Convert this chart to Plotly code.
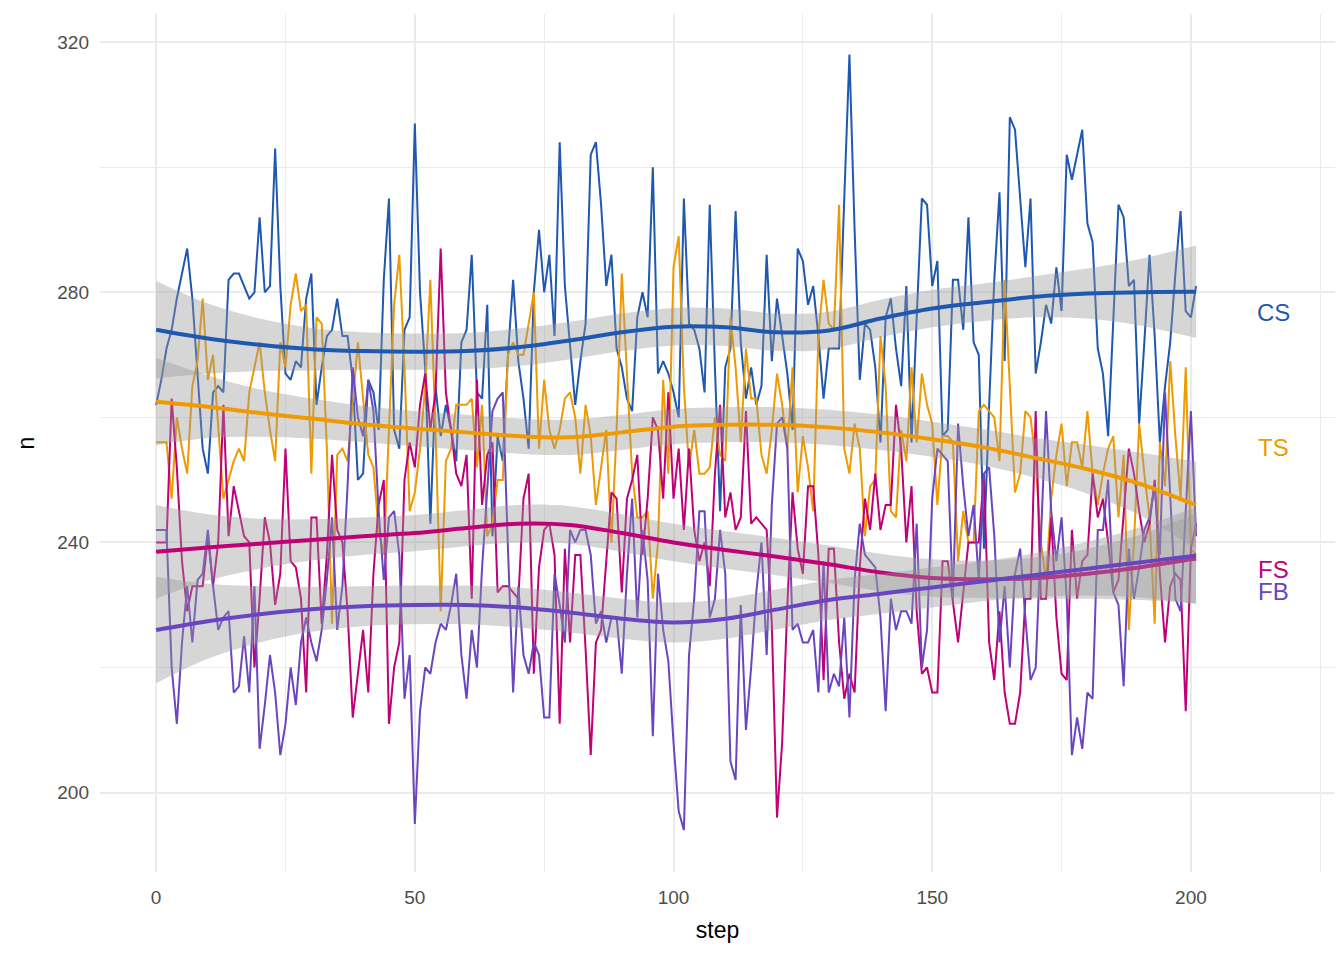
# plot.py
#
# Four noisy count series (CS, TS, FS, FB) over ~200 steps, each with a
# loess-style smooth and grey confidence band, labelled at the right edge.
#
# Output: out.html

import plotly.graph_objects as go

# ── Data ──────────────────────────────────────────────────────────────────
steps = list(range(202))

cs_values = [
    262, 266, 271, 274, 279, 283, 287, 279, 267, 255,
    251, 264, 265, 264, 282, 283, 283, 281, 279, 280,
    292, 280, 281, 303, 281, 267, 266, 269, 268, 279,
    283, 262, 268, 273, 274, 279, 273, 273, 266, 250,
    251, 266, 264, 258, 282, 295, 258, 255, 274, 276,
    307, 280, 268, 243, 265, 257, 262, 258, 253, 272,
    274, 286, 264, 263, 278, 241, 257, 253, 270, 282,
    269, 263, 255, 280, 290, 280, 286, 273, 304, 281,
    272, 262, 269, 275, 302, 304, 294, 281, 286, 271,
    268, 263, 261, 276, 280, 276, 300, 267, 269, 267,
    264, 260, 295, 275, 274, 271, 264, 294, 268, 245,
    268, 271, 293, 272, 263, 268, 262, 265, 286, 269,
    279, 273, 267, 258, 287, 285, 278, 281, 273, 263,
    271, 271, 271, 295, 318, 290, 266, 275, 274, 268,
    256, 276, 279, 271, 265, 281, 256, 276, 295, 294,
    281, 285, 257, 258, 282, 282, 274, 292, 272, 270,
    239, 262, 282, 296, 269, 308, 306, 295, 284, 295,
    267, 272, 278, 275, 284, 277, 302, 298, 302, 306,
    291, 288, 271, 267, 257, 275, 294, 292, 281, 282,
    259, 272, 286, 273, 256, 265, 272, 283, 293, 277,
    276, 281,
]

ts_values = [
    256, 256, 256, 247, 260, 255, 251, 265, 269, 279,
    266, 270, 258, 247, 250, 253, 255, 253, 264, 268,
    272, 264, 258, 253, 272, 268, 278, 283, 277, 278,
    251, 276, 275, 255, 227, 254, 255, 253, 262, 272,
    263, 254, 252, 242, 238, 258, 278, 286, 268, 245,
    248, 255, 265, 282, 258, 229, 253, 255, 262, 262,
    262, 263, 252, 262, 241, 243, 250, 250, 270, 272,
    270, 270, 275, 280, 255, 266, 258, 255, 258, 263,
    264, 260, 251, 262, 257, 246, 252, 258, 240, 258,
    283, 267, 251, 244, 244, 245, 231, 240, 266, 251,
    284, 289, 265, 252, 258, 251, 251, 252, 260, 254,
    253, 276, 268, 256, 271, 263, 263, 254, 251, 258,
    267, 262, 255, 268, 248, 257, 252, 245, 273, 282,
    275, 274, 294, 255, 251, 259, 255, 241, 249, 250,
    273, 265, 245, 244, 258, 253, 268, 256, 267, 262,
    259, 246, 257, 257, 256, 237, 245, 240, 240, 261,
    262, 261, 260, 253, 282, 265, 248, 251, 261, 260,
    253, 240, 234, 247, 254, 259, 249, 256, 256, 252,
    261, 251, 246, 251, 255, 257, 244, 254, 226, 240,
    259, 251, 244, 227, 256, 249, 269, 257, 247, 268,
    239, 238,
]

fs_values = [
    240, 240, 240, 263, 252, 237, 229, 233, 233, 233,
    241, 233, 240, 262, 241, 249, 245, 241, 240, 220,
    231, 244, 240, 230, 235, 255, 237, 236, 231, 216,
    244, 244, 227, 238, 254, 242, 240, 229, 212, 219,
    226, 216, 235, 246, 250, 211, 220, 224, 250, 256,
    252, 262, 267, 258, 264, 287, 264, 258, 251, 249,
    254, 231, 266, 246, 254, 256, 232, 233, 233, 232,
    231, 247, 251, 219, 236, 242, 243, 238, 211, 239,
    224, 238, 238, 223, 206, 224, 226, 237, 248, 247,
    232, 247, 250, 254, 238, 247, 260, 258, 247, 264,
    247, 255, 242, 255, 242, 237, 240, 233, 251, 262,
    244, 248, 242, 244, 261, 243, 244, 243, 242, 227,
    196, 208, 230, 248, 239, 235, 249, 249, 238, 218,
    239, 239, 224, 215, 219, 216, 236, 247, 242, 251,
    242, 246, 246, 262, 255, 240, 249, 229, 219, 220,
    216, 216, 237, 237, 230, 224, 232, 240, 240, 240,
    251, 224, 218, 229, 216, 211, 211, 216, 231, 231,
    261, 231, 231, 244, 228, 219, 218, 242, 231, 237,
    238, 251, 244, 247, 240, 232, 234, 244, 255, 251,
    245, 240, 243, 250, 235, 224, 233, 235, 234, 213,
    239, 243,
]

fb_values = [
    242, 242, 242, 220, 211, 224, 233, 224, 234, 235,
    242, 233, 226, 228, 229, 216, 217, 225, 216, 233,
    207, 214, 222, 216, 206, 211, 220, 214, 224, 228,
    224, 221, 226, 234, 244, 226, 233, 249, 268, 260,
    257, 266, 261, 245, 234, 244, 245, 238, 215, 222,
    195, 213, 220, 219, 224, 227, 226, 230, 235, 222,
    215, 226, 220, 236, 248, 261, 263, 264, 239, 216,
    233, 222, 219, 224, 222, 212, 212, 235, 230, 224,
    242, 240, 242, 242, 238, 227, 229, 224, 228, 228,
    219, 235, 247, 228, 242, 234, 209, 235, 226, 221,
    208, 197, 194, 222, 231, 245, 245, 228, 231, 242,
    235, 205, 202, 230, 210, 220, 232, 240, 222, 246,
    259, 260, 255, 226, 227, 224, 224, 226, 216, 237,
    216, 219, 217, 228, 212, 234, 243, 238, 237, 236,
    228, 213, 231, 226, 229, 229, 227, 243, 220, 226,
    247, 255, 254, 253, 231, 259, 249, 241, 246, 234,
    251, 252, 241, 224, 233, 220, 235, 239, 228, 218,
    220, 240, 261, 245, 237, 244, 231, 206, 212, 207,
    216, 215, 242, 242, 250, 232, 230, 217, 239, 231,
    236, 242, 244, 249, 238, 264, 248, 231, 229, 244,
    261, 241,
]

# Smooth fits and band half-widths, read at these steps
smooth_steps = [0, 10, 20, 30, 40, 50, 60, 70, 80, 90, 100,
                110, 120, 130, 140, 150, 160, 170, 180, 190, 200, 201]

cs_smooth = [274.0, 272.6, 271.6, 270.9, 270.6, 270.5, 270.6, 271.2, 272.3, 273.6, 274.5,
             274.4, 273.6, 273.9, 275.8, 277.4, 278.4, 279.3, 279.8, 280.0, 280.1, 280.1]
ts_smooth = [262.5, 261.7, 260.7, 259.8, 258.9, 258.2, 257.6, 257.0, 256.8, 257.6, 258.5,
             258.8, 258.8, 258.4, 257.6, 256.5, 255.2, 253.5, 251.7, 249.4, 246.3, 246.0]
fs_smooth = [238.5, 239.2, 239.8, 240.4, 241.0, 241.5, 242.3, 243.0, 242.8, 241.5, 240.0,
             238.8, 237.7, 236.5, 235.2, 234.3, 234.1, 234.3, 235.0, 236.0, 237.3, 237.4]
fb_smooth = [226.0, 227.4, 228.5, 229.3, 229.8, 230.0, 230.0, 229.6, 228.8, 227.8, 227.2,
             227.8, 229.3, 230.8, 231.8, 232.8, 233.8, 234.8, 235.8, 236.8, 237.8, 237.9]

cs_band = [7.8, 5.6, 4.2, 3.4, 3.0, 2.9, 2.9, 3.0, 3.0, 3.0, 3.0,
           3.0, 3.0, 3.0, 3.0, 3.0, 3.0, 3.3, 4.0, 5.3, 7.2, 7.4]
ts_band = [7.0, 5.0, 3.8, 3.2, 2.9, 2.8, 2.8, 2.8, 2.8, 2.8, 2.8,
           2.8, 2.8, 2.8, 2.8, 2.8, 2.9, 3.2, 3.9, 5.0, 6.8, 7.0]
fs_band = [7.5, 5.3, 4.0, 3.3, 3.0, 2.9, 2.9, 3.0, 3.0, 3.0, 3.0,
           3.0, 3.0, 3.0, 3.0, 3.0, 3.0, 3.3, 4.0, 5.2, 7.0, 7.2]
fb_band = [8.5, 6.0, 4.5, 3.6, 3.2, 3.1, 3.1, 3.2, 3.2, 3.2, 3.2,
           3.2, 3.2, 3.2, 3.2, 3.2, 3.2, 3.5, 4.3, 5.6, 7.5, 7.7]

series_names = ["CS", "TS", "FS", "FB"]
label_step = 216
label_y = [276.7, 255.2, 235.7, 232.2]

COLORS = {
    "CS": "#1F58B0",
    "TS": "#EE9A00",
    "FS": "#BF0077",
    "FB": "#6A45C0",
}

raw = {"CS": cs_values, "TS": ts_values, "FS": fs_values, "FB": fb_values}
smooth = {"CS": cs_smooth, "TS": ts_smooth, "FS": fs_smooth, "FB": fb_smooth}
band = {"CS": cs_band, "TS": ts_band, "FS": fs_band, "FB": fb_band}

GRID = "#EBEBEB"
FONT = "Liberation Sans, Arial, Helvetica, sans-serif"

fig = go.Figure()

# ── Raw series ────────────────────────────────────────────────────────────
for name in series_names:
    fig.add_trace(go.Scatter(
        x=steps,
        y=raw[name],
        mode="lines",
        line=dict(color=COLORS[name], width=2),
        name=name,
        hoverinfo="skip",
    ))

# ── Smooth + confidence band ──────────────────────────────────────────────
for name in series_names:
    upper = [m + h for m, h in zip(smooth[name], band[name])]
    lower = [m - h for m, h in zip(smooth[name], band[name])]
    fig.add_trace(go.Scatter(
        x=smooth_steps, y=lower,
        mode="lines",
        line=dict(width=0, shape="spline"),
        hoverinfo="skip",
    ))
    fig.add_trace(go.Scatter(
        x=smooth_steps, y=upper,
        mode="lines",
        fill="tonexty",
        fillcolor="rgba(153,153,153,0.4)",
        line=dict(width=0, shape="spline"),
        hoverinfo="skip",
    ))
    fig.add_trace(go.Scatter(
        x=smooth_steps,
        y=smooth[name],
        mode="lines",
        line=dict(color=COLORS[name], width=4, shape="spline"),
        hoverinfo="skip",
    ))

# ── End labels ────────────────────────────────────────────────────────────
for name, y in zip(series_names, label_y):
    fig.add_annotation(
        x=label_step, y=y, text=name,
        showarrow=False, xanchor="center", yanchor="middle",
        font=dict(size=24, color=COLORS[name], family=FONT),
    )

# the page body adds an 8px offset, so margins are trimmed to match
fig.update_layout(
    width=1344,
    height=960,
    showlegend=False,
    plot_bgcolor="white",
    paper_bgcolor="white",
    margin=dict(l=92, r=17, t=6, b=96),
    font=dict(family=FONT),
)
fig.update_xaxes(
    range=[-10.85, 227.85],
    automargin=False,
    tickmode="array", tickvals=[0, 50, 100, 150, 200],
    showgrid=True, gridcolor=GRID, gridwidth=2,
    minor=dict(tickmode="array", tickvals=[25, 75, 125, 175, 225],
               showgrid=True, gridcolor=GRID, gridwidth=1),
    zeroline=False, showline=False, ticks="",
    tickfont=dict(size=19, color="#4D4D4D"),
    ticklabelstandoff=12,
    title=dict(text="step", font=dict(size=23, color="black"), standoff=14),
)
fig.update_yaxes(
    range=[187.3, 324.5],
    automargin=False,
    tickmode="array", tickvals=[200, 240, 280, 320],
    showgrid=True, gridcolor=GRID, gridwidth=2,
    minor=dict(tickmode="array", tickvals=[220, 260, 300],
               showgrid=True, gridcolor=GRID, gridwidth=1),
    zeroline=False, showline=False, ticks="",
    tickfont=dict(size=19, color="#4D4D4D"),
    ticklabelstandoff=10,
    title=dict(text="n", font=dict(size=23, color="black"), standoff=16),
)

fig.write_html("out.html")
